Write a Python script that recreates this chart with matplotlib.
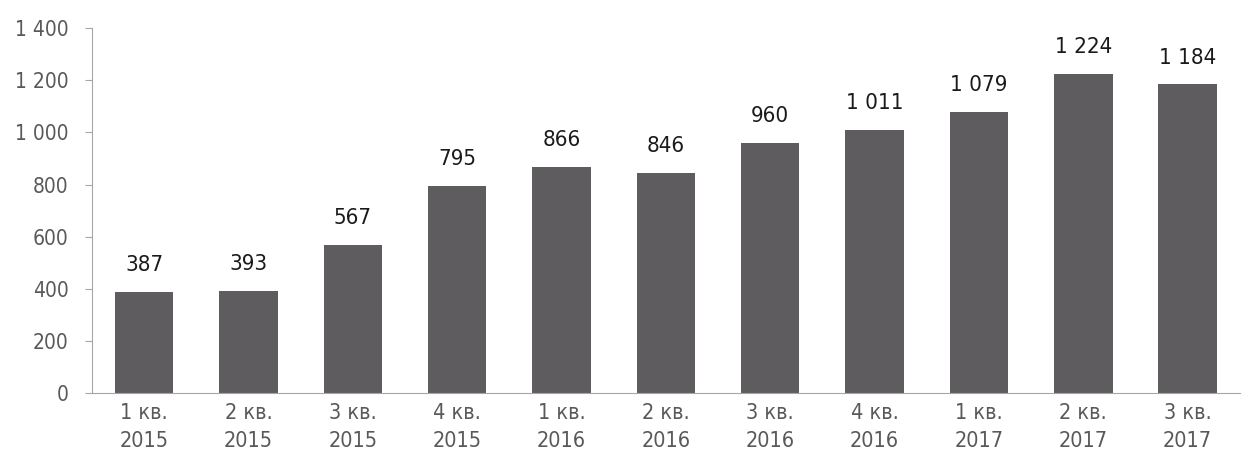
import matplotlib
matplotlib.use("Agg")
import matplotlib.pyplot as plt
from matplotlib.ticker import FuncFormatter
from matplotlib import font_manager

# Data
quarters = ["1 кв.\n2015", "2 кв.\n2015", "3 кв.\n2015", "4 кв.\n2015",
            "1 кв.\n2016", "2 кв.\n2016", "3 кв.\n2016", "4 кв.\n2016",
            "1 кв.\n2017", "2 кв.\n2017", "3 кв.\n2017"]
values = [387, 393, 567, 795, 866, 846, 960, 1011, 1079, 1224, 1184]


def fmt(v):
    return f"{int(v):,}".replace(",", " ")


# narrow sans, closest to the original Tahoma look
names = {f.name for f in font_manager.fontManager.ttflist}
fam = "DejaVu Sans Condensed" if "DejaVu Sans Condensed" in names else "DejaVu Sans"
plt.rcParams['font.family'] = [fam, 'DejaVu Sans']
plt.rcParams['font.stretch'] = 'condensed'
text_color = "#595959"
axis_color = "#a6a6a6"

fig = plt.figure(figsize=(12.6, 4.61), dpi=100)
ax = fig.add_axes([0.073, 0.147, 0.911, 0.792])

x = list(range(len(values)))
ax.bar(x, values, width=0.56, color="#5f5c60", zorder=2)

for xi, v in zip(x, values):
    ax.text(xi, v + 65, fmt(v), ha="center", va="bottom", fontsize=16, color="#1a1a1a")

ax.set_xlim(-0.5, len(values) - 0.5)
ax.set_ylim(0, 1400)
ax.set_yticks(range(0, 1401, 200))
ax.yaxis.set_major_formatter(FuncFormatter(lambda v, p: fmt(v)))
ax.set_xticks(x)
ax.set_xticklabels(quarters, fontsize=15.5, color=text_color, linespacing=1.5)

for side in ["top", "right"]:
    ax.spines[side].set_visible(False)
ax.spines["left"].set_color(axis_color)
ax.spines["bottom"].set_color(axis_color)
ax.tick_params(axis="y", colors=axis_color, labelcolor=text_color, labelsize=15, length=5, pad=12)
ax.tick_params(axis="x", length=0, pad=7)

fig.savefig("out.png", dpi=100)
